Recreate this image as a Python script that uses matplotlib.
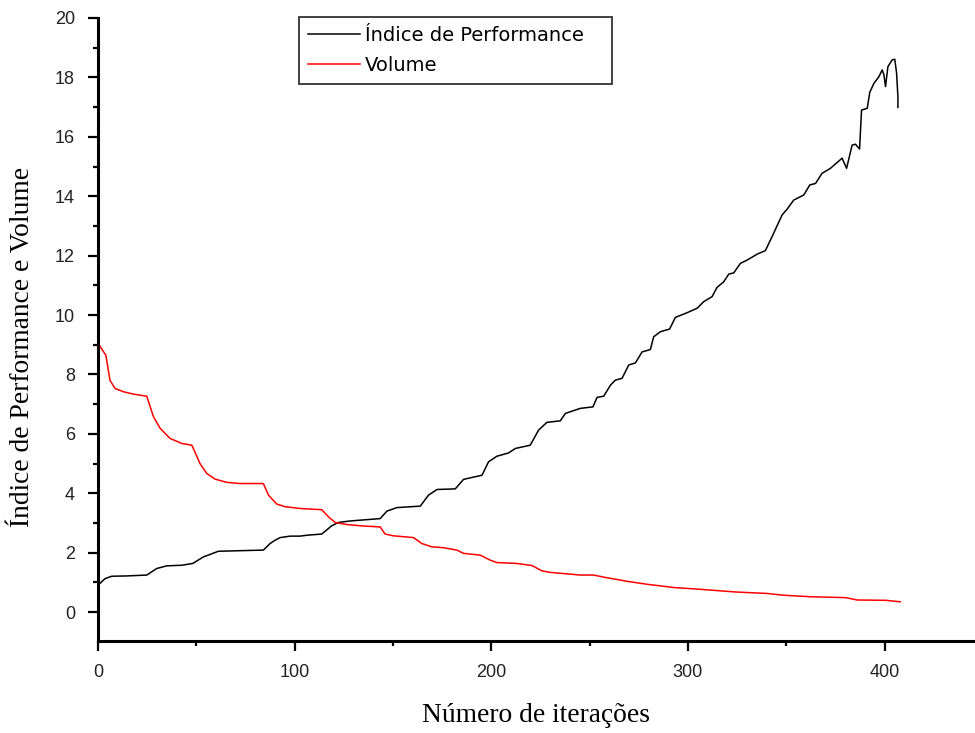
import numpy as np
import matplotlib
matplotlib.use("Agg")
import matplotlib.pyplot as plt
from matplotlib.ticker import MultipleLocator

# Índice de Performance ao longo das iterações
perf_x = [0, 1, 3.6, 7, 14.6, 24.8, 29.9, 35, 42.6, 48.2, 53.6, 61.2, 72.3, 84.1,
          87.5, 90, 92.6, 97.7, 102.8, 106.2, 113.8, 118.9, 122.3, 128.2, 143.5,
          146.9, 152, 163.9, 168.1, 172.4, 181.7, 185.9, 195.3, 198.6, 202.9,
          208.8, 212.2, 219.8, 224.1, 228.3, 235.1, 237.7, 245.3, 251.7, 253.8,
          257.2, 260.6, 263.1, 266.5, 269.9, 273.3, 276.7, 280.9, 282.6, 286,
          290.7, 293.6, 299.6, 304.7, 308, 312.3, 314.8, 318.2, 320.8, 323.3,
          326.7, 330.1, 335.2, 339.4, 342.8, 347.9, 350.4, 353.8, 358.9, 362,
          364.9, 368.2, 372.5, 378.4, 380.7, 383.5, 385.2, 387.3, 388.3, 391.2,
          392.5, 394.6, 397.1, 398.8, 399.7, 400.5, 401.7, 403.9, 405.2, 406.1,
          406.8, 406.8]
perf_y = [0.95, 0.97, 1.13, 1.21, 1.22, 1.25, 1.47, 1.56, 1.58, 1.64, 1.86, 2.05,
          2.07, 2.09, 2.31, 2.42, 2.51, 2.56, 2.56, 2.59, 2.63, 2.91, 3.02, 3.07,
          3.15, 3.4, 3.52, 3.57, 3.94, 4.13, 4.15, 4.47, 4.61, 5.06, 5.25, 5.36,
          5.51, 5.62, 6.13, 6.39, 6.44, 6.69, 6.86, 6.91, 7.23, 7.27, 7.64, 7.81,
          7.87, 8.32, 8.39, 8.76, 8.84, 9.27, 9.44, 9.53, 9.92, 10.08, 10.23,
          10.45, 10.62, 10.93, 11.12, 11.38, 11.42, 11.74, 11.85, 12.05, 12.17,
          12.64, 13.37, 13.56, 13.87, 14.04, 14.38, 14.43, 14.77, 14.94, 15.28,
          14.94, 15.72, 15.75, 15.59, 16.9, 16.96, 17.5, 17.8, 18.02, 18.25,
          18.08, 17.69, 18.36, 18.59, 18.61, 18.16, 17.35, 16.99]

# Volume ao longo das iterações
vol_x = [0, 4, 6.1, 8.7, 12.9, 18, 24.8, 28.2, 31.6, 36.6, 42.6, 47.7, 48.5, 51.9,
         55.3, 59.5, 65.5, 72.3, 84.1, 86.7, 90.9, 95.2, 102.8, 113.8, 117.2,
         120.6, 126.6, 135, 143.5, 146, 150.3, 160.5, 164.7, 169.8, 175.7, 182.5,
         185.9, 194.4, 199.5, 202.9, 213, 220.7, 225.8, 230, 240.2, 245.3, 252,
         258, 269, 279.2, 292.8, 306.4, 324.2, 340.3, 348.8, 362.3, 380.2, 386.1,
         400.5, 408]
vol_y = [9.05, 8.65, 7.8, 7.53, 7.42, 7.34, 7.27, 6.58, 6.19, 5.85, 5.68, 5.62,
         5.51, 5.0, 4.67, 4.48, 4.37, 4.33, 4.33, 3.94, 3.64, 3.55, 3.49, 3.45,
         3.21, 3.02, 2.95, 2.9, 2.87, 2.63, 2.57, 2.51, 2.31, 2.2, 2.17, 2.09,
         1.98, 1.92, 1.75, 1.67, 1.64, 1.57, 1.39, 1.34, 1.28, 1.25, 1.25, 1.17,
         1.04, 0.94, 0.83, 0.77, 0.68, 0.63, 0.57, 0.52, 0.49, 0.41, 0.40, 0.35]


def main():
    fig = plt.figure(figsize=(9.75, 7.33), dpi=100)
    ax = fig.add_axes([0.1005, 0.1255, 0.8995, 0.85])

    ax.plot(perf_x, perf_y, color="black", lw=1.1, label="Índice de Performance")
    ax.plot(vol_x, vol_y, color="red", lw=1.1, label="Volume")

    ax.set_xlim(0, 446)
    ax.set_ylim(-0.97, 20)
    ax.xaxis.set_major_locator(MultipleLocator(100))
    ax.xaxis.set_minor_locator(MultipleLocator(50))
    ax.yaxis.set_major_locator(MultipleLocator(2))
    ax.yaxis.set_minor_locator(MultipleLocator(1))

    for side in ("top", "right"):
        ax.spines[side].set_visible(False)
    for side in ("left", "bottom"):
        ax.spines[side].set_linewidth(2.2)

    ax.tick_params(which="major", direction="out", length=7.5, width=1.6)
    ax.tick_params(which="minor", direction="out", length=3.8, width=1.6)
    ax.tick_params(axis="y", which="major", pad=9)
    ax.tick_params(axis="x", which="major", pad=9)
    for lab in ax.get_xticklabels() + ax.get_yticklabels():
        lab.set_fontfamily("Liberation Sans")
        lab.set_fontsize(13)
        lab.set_color("#222222")

    ax.set_xlabel("Número de iterações", family="Liberation Serif", fontsize=19.8)
    ax.set_ylabel("Índice de Performance e Volume", family="Liberation Serif",
                  fontsize=19.8)
    ax.xaxis.set_label_coords(0.5, -0.1)
    ax.yaxis.set_label_coords(-0.072, 0.472)

    leg = ax.legend(loc="upper left", bbox_to_anchor=(0.3067, 0.888, 0.321, 0.0888),
                    bbox_transform=fig.transFigure, mode="expand", borderaxespad=0,
                    prop={"family": "DejaVu Sans", "size": 14},
                    handlelength=2.7, handletextpad=0.26, borderpad=0.45,
                    labelspacing=0.57, fancybox=False, framealpha=1)
    leg.get_frame().set_edgecolor("#333333")
    leg.get_frame().set_linewidth(1.3)

    fig.savefig("out.png", dpi=100)
    plt.close(fig)


if __name__ == "__main__":
    main()
